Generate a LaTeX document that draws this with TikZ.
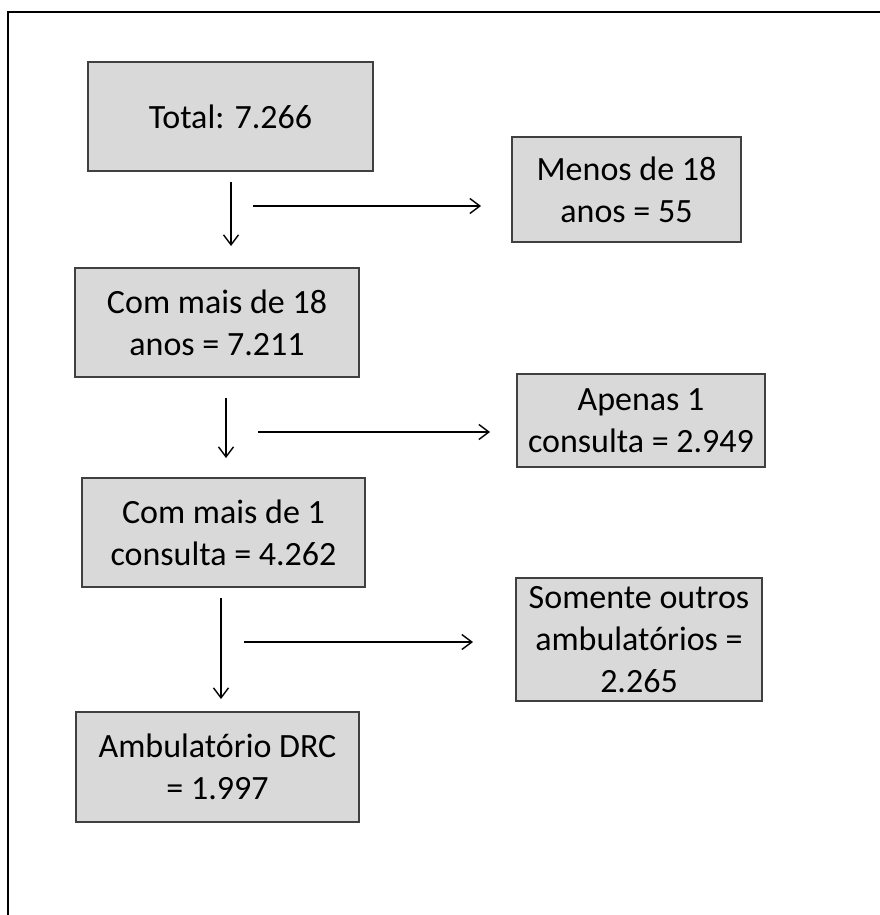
\documentclass[tikz,border=0pt]{standalone}
\usepackage{fontspec}
\setmainfont{Carlito}
\usetikzlibrary{arrows.meta}

\begin{document}
\begin{tikzpicture}[x=1pt,y=-1pt]
    \tikzstyle{box}=[draw={rgb,255:red,64;green,64;blue,64}, line width=1.6pt,
        fill={rgb,255:red,217;green,217;blue,217}, inner sep=0pt,
        align=center, font=\fontsize{34}{42}\selectfont]
    \tikzstyle{flow}=[line width=1.4pt, -{Straight Barb[length=10pt,width=15pt]}]
    \useasboundingbox (0,0) rectangle (880,915);
    \draw[line width=1.6pt] (880,12) -- (8,12) -- (8,915);

    \node[box, minimum width=285pt, minimum height=109pt] (total)   at (230.5,116.5) {Total: 7.266};
    \node[box, minimum width=229pt, minimum height=105pt] (menos)   at (626.5,189.5) {Menos de 18\\anos = 55};
    \node[box, minimum width=284pt, minimum height=109pt] (mais18)  at (217,322.5)   {Com mais de 18\\anos = 7.211};
    \node[box, minimum width=248pt, minimum height=93pt]  (apenas)  at (641,420.5)   {Apenas 1\\consulta = 2.949};
    \node[box, minimum width=283pt, minimum height=109pt] (mais1)   at (223.5,532.5) {Com mais de 1\\consulta = 4.262};
    \node[box, minimum width=246pt, minimum height=123pt] (somente) at (639,639.5)   {Somente outros\\ambulatórios =\\2.265};
    \node[box, minimum width=283pt, minimum height=110pt] (drc)     at (217.5,767)   {Ambulatório DRC\\= 1.997};

    % free arrow ends
    \coordinate (d1a) at (231,182);  \coordinate (d1b) at (231,246);
    \coordinate (r1a) at (253,206);  \coordinate (r1b) at (481,206);
    \coordinate (d2a) at (226,398);  \coordinate (d2b) at (226,458);
    \coordinate (r2a) at (258,432);  \coordinate (r2b) at (490,432);
    \coordinate (d3a) at (221,598);  \coordinate (d3b) at (221,699);
    \coordinate (r3a) at (244,642);  \coordinate (r3b) at (473,642);

    \draw[flow] (d1a) -- (d1b);
    \draw[flow] (r1a) -- (r1b);
    \draw[flow] (d2a) -- (d2b);
    \draw[flow] (r2a) -- (r2b);
    \draw[flow] (d3a) -- (d3b);
    \draw[flow] (r3a) -- (r3b);
\end{tikzpicture}
\end{document}
